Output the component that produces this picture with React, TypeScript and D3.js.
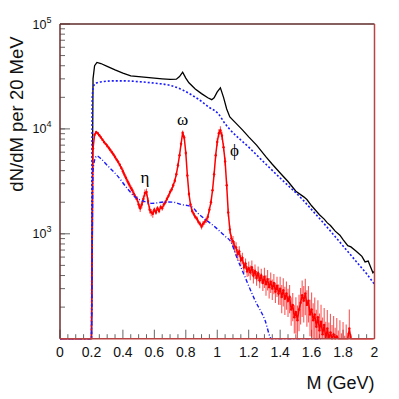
import React, { useEffect, useRef } from "react";
import * as d3 from "d3";

// mass spectrum, log y. values

// black: total
const totalMass = [0, 0.2, 0.21, 0.22, 0.235, 0.26, 0.3, 0.35, 0.4, 0.45, 0.5, 0.55, 0.6, 0.65, 0.7, 0.74, 0.76, 0.78, 0.8, 0.82, 0.86, 0.9, 0.94, 0.965, 0.98, 1.0, 1.02, 1.04, 1.06, 1.08, 1.12, 1.16, 1.2, 1.25, 1.31, 1.35, 1.4, 1.45, 1.5, 1.55, 1.57, 1.6, 1.65, 1.68, 1.7, 1.72, 1.75, 1.78, 1.8, 1.83, 1.85, 1.88, 1.9, 1.92, 1.94, 1.96, 1.97, 1.99, 2.0];
const totalCounts = [0, 0, 30000, 40000, 43000, 42000, 39500, 36500, 34000, 32000, 31500, 31000, 30500, 30000, 29600, 29800, 31500, 34700, 30500, 27500, 24000, 21700, 19800, 19000, 19800, 22500, 24600, 20000, 15500, 13000, 11300, 9800, 8400, 7000, 5410, 4600, 3800, 3150, 2550, 2250, 2120, 1850, 1520, 1380, 1270, 1200, 1060, 970, 880, 770, 750, 690, 650, 610, 540, 550, 505, 425, 440];

// blue dotted: upper model curve
const upperMass = [0, 0.2, 0.205, 0.215, 0.235, 0.28, 0.35, 0.41, 0.5, 0.6, 0.7, 0.78, 0.85, 0.89, 0.95, 1.006, 1.05, 1.08, 1.2, 1.31, 1.4, 1.546, 1.6, 1.7, 1.822, 1.9, 1.95, 2.0];
const upperCounts = [0, 0, 20000, 26000, 27500, 28300, 28700, 28700, 28200, 27300, 26000, 23500, 20500, 18750, 16000, 14000, 11200, 9900, 6700, 4600, 3400, 2094, 1700, 1150, 700, 510, 415, 330];

// blue dash-dot: lower model curve
const lowerMass = [0, 0.2, 0.21, 0.225, 0.235, 0.26, 0.3, 0.371, 0.42, 0.477, 0.53, 0.583, 0.667, 0.72, 0.773, 0.837, 0.879, 0.93, 0.985, 1.049, 1.09, 1.12, 1.176, 1.239, 1.303, 1.345, 1.37, 1.66];
const lowerCounts = [0, 0, 4000, 5300, 5530, 5200, 4500, 3490, 2800, 2250, 2050, 1950, 2010, 2000, 1900, 1810, 1560, 1350, 1165, 950, 820, 620, 389, 234, 151, 100, 80, 0];

// red: data, 10 MeV bins starting at 0.20 GeV
const dataStart = 0.2;
const dataBin = 0.01;
const dataCounts = [
  100, 6500, 8800, 9300, 9100, 8700, 8300, 7900, 7500, 7200,
  6900, 6600, 6300, 6000, 5700, 5400, 5100, 4850, 4550, 4250,
  3950, 3650, 3400, 3150, 2950, 2750, 2600, 2400, 2250, 2150,
  1900, 1750, 1900, 2150, 2450, 2500, 2050, 1700, 1600, 1550,
  1700, 1600, 1750, 1650, 1800, 1750, 1900, 2000, 2150, 2300,
  2500, 2650, 2900, 3200, 3700, 4500, 5600, 7200, 9200, 8300,
  5900, 3600, 2400, 1900, 1650, 1550, 1450, 1400, 1300, 1250,
  1170, 1250, 1300, 1350, 1450, 1700, 2000, 2600, 3700, 5600,
  7500, 9100, 9700, 8600, 6700, 4900, 2900, 1600, 1100, 900,
  850, 760, 740, 640, 680, 560, 590, 480, 520, 440,
  470, 430, 480, 400, 440, 380, 420, 360, 400, 340,
  390, 330, 370, 310, 350, 300, 340, 280, 320, 270,
  300, 250, 290, 240, 270, 230, 250, 190, 210, 160,
  180, 150, 190, 220, 260, 230, 270, 210, 230, 170,
  190, 150, 170, 130, 160, 120, 145, 110, 135, 100,
  125, 95, 115, 90, 110, 85, 105, 80, 100, 75,
  95, 70, 90, 75, 125, 70, 60, 55, 65, 50,
  60, 45, 55, 40, 50, 40, 45, 40, 35, 30,
];
// relative error per 0.1 GeV slice, from 0.2 up
const dataRelErr = [0.03, 0.04, 0.06, 0.08, 0.05, 0.05, 0.05, 0.06, 0.09, 0.12, 0.16, 0.22, 0.3, 0.38, 0.45, 0.5, 0.52, 0.55];

const xTicks = [0, 0.2, 0.4, 0.6, 0.8, 1, 1.2, 1.4, 1.6, 1.8, 2];
const xTickLabels = ["0", "0.2", "0.4", "0.6", "0.8", "1", "1.2", "1.4", "1.6", "1.8", "2"];
const yDecades = [1000, 10000, 100000];
const yDecadeExp = ["3", "4", "5"];

const peaks = [
  { name: "η", m: 0.54, v: 3040 },
  { name: "ω", m: 0.78, v: 10850 },
  { name: "ϕ", m: 1.109, v: 5500 },
];

export default function App() {
  const ref = useRef<SVGSVGElement>(null);

  useEffect(() => {
    const W = 399, H = 399;
    const left = 60, right = 374.5, top = 24, bottom = 338.7;
    const font = "'Liberation Sans', Arial, Helvetica, sans-serif";

    const svg = d3.select(ref.current);
    svg.selectAll("*").remove();
    svg.attr("width", W).attr("height", H);

    const x = d3.scaleLinear().domain([0, 2]).range([left, right]);
    const y = d3.scaleLog().domain([100, 100000]).range([bottom, top]).clamp(true);
    const yv = (v: number) => y(Math.max(v, 1));

    svg.append("defs").append("clipPath").attr("id", "plotclip")
      .append("rect").attr("x", left).attr("y", top - 1)
      .attr("width", right - left).attr("height", bottom - top + 2);

    // ticks
    const tickColor = "#666";
    const xt = svg.append("g");
    d3.range(0, 41).forEach((i) => {
      const m = i * 0.05;
      const major = i % 4 === 0;
      xt.append("line")
        .attr("x1", x(m)).attr("x2", x(m))
        .attr("y1", bottom).attr("y2", bottom - (major ? 9 : 4.5))
        .attr("stroke", tickColor).attr("stroke-width", 1);
    });
    xTicks.forEach((t, i) => {
      xt.append("text")
        .attr("x", x(t)).attr("y", 357)
        .attr("text-anchor", "middle")
        .attr("font-family", font).attr("font-size", 14)
        .attr("fill", "#111")
        .text(xTickLabels[i]);
    });

    const yt = svg.append("g");
    [100, 1000, 10000].forEach((dec) => {
      for (let k = 1; k <= 10; k++) {
        const v = dec * k;
        if (v <= 100 || v > 100000) continue;
        const major = k === 10;
        yt.append("line")
          .attr("x1", left).attr("x2", left + (major ? 10 : 5))
          .attr("y1", y(v)).attr("y2", y(v))
          .attr("stroke", tickColor).attr("stroke-width", 1);
      }
    });
    yDecades.forEach((v, i) => {
      const t = yt.append("text")
        .attr("x", 32.5).attr("y", y(v) + 4.5)
        .attr("font-family", font).attr("font-size", 12.5)
        .attr("fill", "#111");
      t.append("tspan").text("10");
      t.append("tspan").attr("dy", -6).attr("font-size", 9).text(yDecadeExp[i]);
    });

    // curves
    const plot = svg.append("g").attr("clip-path", "url(#plotclip)");
    const line = d3.line<[number, number]>()
      .x((d) => x(d[0]))
      .y((d) => yv(d[1]));

    plot.append("path")
      .datum(totalMass.map((m, i) => [m, totalCounts[i]] as [number, number]))
      .attr("d", line).attr("fill", "none")
      .attr("stroke", "#000").attr("stroke-width", 1.3);

    plot.append("path")
      .datum(upperMass.map((m, i) => [m, upperCounts[i]] as [number, number]))
      .attr("d", line.curve(d3.curveMonotoneX)).attr("fill", "none")
      .attr("stroke", "#1a1aff").attr("stroke-width", 1.6)
      .attr("stroke-dasharray", "2,2");

    const data = dataCounts.map((v, i) => [dataStart + i * dataBin, v] as [number, number]);
    const errOf = (i: number) => dataRelErr[Math.min(dataRelErr.length - 1, Math.floor(i / 10))];

    // error bars
    const eb = plot.append("g");
    data.forEach((d, i) => {
      if (i === 0) return;
      const e = d[1] * errOf(i);
      eb.append("line")
        .attr("x1", x(d[0])).attr("x2", x(d[0]))
        .attr("y1", yv(d[1] - e)).attr("y2", yv(d[1] + e))
        .attr("stroke", "#ff2020").attr("stroke-width", 1.1)
        .attr("opacity", 0.75);
    });

    plot.append("path")
      .datum([[0, 0], [0.2, 0], ...data] as [number, number][])
      .attr("d", line.curve(d3.curveLinear)).attr("fill", "none")
      .attr("stroke", "#ff0000").attr("stroke-width", 1.5);

    eb.selectAll("circle.mk")
      .data(data.slice(1).filter((d) => d[1] > 100))
      .enter().append("circle")
      .attr("class", "mk")
      .attr("cx", (d) => x(d[0])).attr("cy", (d) => yv(d[1]))
      .attr("r", 1.2).attr("fill", "#ff0000");

    plot.append("path")
      .datum(lowerMass.map((m, i) => [m, lowerCounts[i]] as [number, number]))
      .attr("d", line.curve(d3.curveMonotoneX)).attr("fill", "none")
      .attr("stroke", "#1a1aff").attr("stroke-width", 1.4)
      .attr("stroke-dasharray", "4,2,1,2");

    // peak labels
    peaks.forEach((p) => {
      svg.append("text")
        .attr("x", x(p.m)).attr("y", yv(p.v))
        .attr("text-anchor", "middle")
        .attr("font-family", "'Liberation Serif', 'DejaVu Serif', serif").attr("font-size", 17)
        .attr("fill", "#000")
        .text(p.name);
    });

    // frame
    svg.append("line").attr("x1", left).attr("x2", right).attr("y1", top).attr("y2", top)
      .attr("stroke", "#5e2a2a").attr("stroke-width", 1.5);
    svg.append("line").attr("x1", left).attr("x2", left).attr("y1", top).attr("y2", bottom)
      .attr("stroke", "#6e2e2e").attr("stroke-width", 1.5);
    svg.append("line").attr("x1", right).attr("x2", right).attr("y1", top).attr("y2", bottom)
      .attr("stroke", "#b84444").attr("stroke-width", 1.5);
    svg.append("line").attr("x1", left).attr("x2", right).attr("y1", bottom).attr("y2", bottom)
      .attr("stroke", "#b84444").attr("stroke-width", 1.5);

    // axis titles
    svg.append("text")
      .attr("transform", `translate(23, 114) rotate(-90)`)
      .attr("text-anchor", "middle")
      .attr("font-family", font).attr("font-size", 18.5)
      .attr("fill", "#111")
      .text("dN/dM per 20 MeV");
    svg.append("text")
      .attr("x", right).attr("y", 389)
      .attr("text-anchor", "end")
      .attr("font-family", font).attr("font-size", 18)
      .attr("fill", "#111")
      .text("M (GeV)");
  }, []);

  return (
    <div style={{ position: "absolute", left: 0, top: 0, background: "#fff" }}>
      <svg ref={ref} width={399} height={399} />
    </div>
  );
}
